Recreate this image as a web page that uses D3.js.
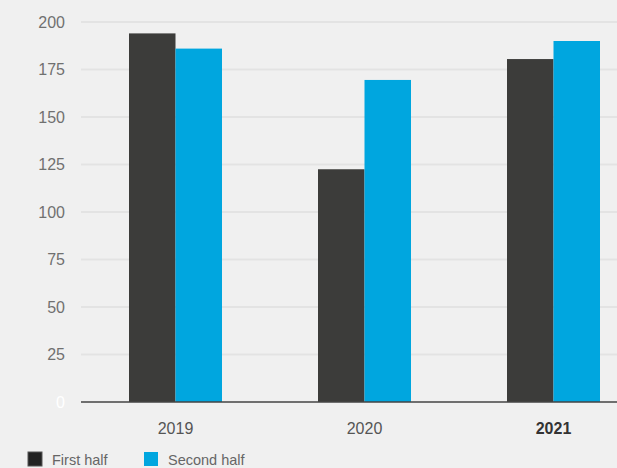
<!DOCTYPE html>
<html>
<head>
<meta charset="utf-8">
<script src="https://cdn.jsdelivr.net/npm/d3@7"></script>
<style>
  html, body { margin: 0; padding: 0; background: #f0f0f0; }
  #chart { width: 617px; height: 468px; }
  text { font-family: "Liberation Sans", Arial, sans-serif; }
</style>
</head>
<body>
<div id="chart"></div>
<script>
var years = ["2019", "2020", "2021"];
var firstHalf = [194, 122.5, 180.5];
var secondHalf = [186, 169.5, 190];
var yTicks = [0, 25, 50, 75, 100, 125, 150, 175, 200];
var seriesNames = ["First half", "Second half"];
var seriesColors = ["#3c3c3a", "#00a6df"];

var width = 617, height = 468;
var svg = d3.select("#chart").append("svg")
    .attr("width", width)
    .attr("height", height);

svg.append("rect").attr("width", width).attr("height", height).attr("fill", "#f0f0f0");

var plotLeft = 81, plotTop = 22, plotBottom = 402;

var y = d3.scaleLinear().domain([0, 200]).range([plotBottom, plotTop]);
var x = d3.scaleBand().domain(years).range([plotLeft, 648]).paddingInner(0).paddingOuter(0);

// gridlines
svg.append("g")
    .selectAll("line")
    .data(yTicks.filter(d => d > 0))
    .enter().append("line")
    .attr("x1", plotLeft).attr("x2", width)
    .attr("y1", d => y(d)).attr("y2", d => y(d))
    .attr("stroke", "#e3e3e3")
    .attr("stroke-width", 2);

// y labels
svg.append("g")
    .selectAll("text")
    .data(yTicks)
    .enter().append("text")
    .attr("x", 65)
    .attr("y", d => y(d))
    .attr("dy", "0.35em")
    .attr("text-anchor", "end")
    .attr("font-size", 16)
    .attr("fill", d => d === 0 ? "#ffffff" : "#707070")
    .text(d => d);

var barW = 46.5;
var data = years.map((yr, i) => ({ year: yr, vals: [firstHalf[i], secondHalf[i]] }));

var groups = svg.append("g").selectAll("g")
    .data(data)
    .enter().append("g");

groups.selectAll("rect")
    .data(d => d.vals.map((v, j) => ({ year: d.year, v: v, j: j })))
    .enter().append("rect")
    .attr("x", d => x(d.year) + x.bandwidth() / 2 - barW + d.j * barW)
    .attr("y", d => y(d.v))
    .attr("width", barW)
    .attr("height", d => plotBottom - y(d.v))
    .attr("fill", d => seriesColors[d.j]);

// baseline
svg.append("line")
    .attr("x1", plotLeft).attr("x2", width)
    .attr("y1", plotBottom).attr("y2", plotBottom)
    .attr("stroke", "#444")
    .attr("stroke-width", 1.5);

// x labels
svg.append("g").selectAll("text")
    .data(years)
    .enter().append("text")
    .attr("x", d => x(d) + x.bandwidth() / 2)
    .attr("y", 434)
    .attr("text-anchor", "middle")
    .attr("font-size", 16)
    .attr("font-weight", d => d === "2021" ? "bold" : "normal")
    .attr("fill", d => d === "2021" ? "#333" : "#555")
    .text(d => d);

// legend
var legendX = [28, 144];
var lg = svg.append("g").selectAll("g")
    .data(seriesNames)
    .enter().append("g")
    .attr("transform", (d, i) => "translate(" + legendX[i] + ",452)");
lg.append("rect")
    .attr("width", 14).attr("height", 14)
    .attr("fill", (d, i) => i === 0 ? "#222" : seriesColors[1])
    .attr("stroke", (d, i) => i === 0 ? "#555" : "none")
    .attr("stroke-width", 1);
lg.append("text")
    .attr("x", 24)
    .attr("y", 13)
    .attr("font-size", 14.5)
    .attr("fill", "#666")
    .text(d => d);
</script>
</body>
</html>
